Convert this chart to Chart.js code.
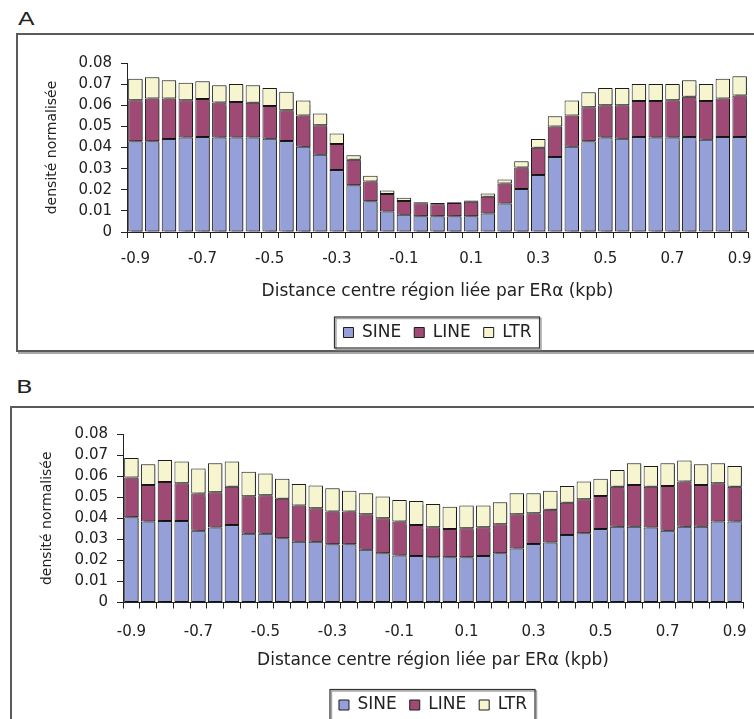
<!DOCTYPE html>
<html lang="fr">
<head>
<meta charset="utf-8">
<title>Densité SINE / LINE / LTR</title>
<script src="https://cdn.jsdelivr.net/npm/chart.js@4.4.1/dist/chart.umd.min.js"></script>
<style>
  html, body { margin: 0; padding: 0; background: #fff; }
  body { width: 754px; height: 719px; overflow: hidden; position: relative; font-family: "DejaVu Sans", sans-serif; }
  .letter { position: absolute; font-size: 18px; color: #222; transform: scaleX(1.35); transform-origin: left top; }
  .frame { position: absolute; box-sizing: border-box; width: 820px; border: 2px solid #5a5a5a; box-shadow: 2px 2px 0 #a8a8a8; }
  canvas { position: absolute; left: 0; }
</style>
</head>
<body>
<div class="letter" style="left:18px; top:8px">A</div>
<div class="frame" style="left:16px; top:33px; height:319px"></div>
<canvas id="chart-a" width="754" height="360" style="top:0"></canvas>

<div class="letter" style="left:16px; top:376px">B</div>
<div class="frame" style="left:10px; top:406px; height:400px"></div>
<canvas id="chart-b" width="754" height="380" style="top:360px"></canvas>

<script>
const CATEGORIES = [
  "-0.9", "-0.85", "-0.8", "-0.75", "-0.7", "-0.65", "-0.6", "-0.55", "-0.5", "-0.45",
  "-0.4", "-0.35", "-0.3", "-0.25", "-0.2", "-0.15", "-0.1", "-0.05", "0", "0.05",
  "0.1", "0.15", "0.2", "0.25", "0.3", "0.35", "0.4", "0.45", "0.5", "0.55",
  "0.6", "0.65", "0.7", "0.75", "0.8", "0.85", "0.9",
];
const X_TITLE = "Distance centre région liée par ERα (kpb)";
const Y_TITLE = "densité normalisée";

// panneau A
const SINE_A = [
  0.0430, 0.0430, 0.0440, 0.0447, 0.0450, 0.0447, 0.0447, 0.0447, 0.0441, 0.0431,
  0.0403, 0.0366, 0.0293, 0.0221, 0.0146, 0.0097, 0.0082, 0.0075, 0.0075, 0.0075,
  0.0075, 0.0087, 0.0135, 0.0203, 0.0270, 0.0355, 0.0403, 0.0430, 0.0447, 0.0441,
  0.0450, 0.0447, 0.0447, 0.0450, 0.0437, 0.0450, 0.0450,
];
const LINE_A = [
  0.0194, 0.0202, 0.0192, 0.0177, 0.0180, 0.0166, 0.0168, 0.0165, 0.0155, 0.0145,
  0.0148, 0.0139, 0.0123, 0.0121, 0.0093, 0.0083, 0.0065, 0.0061, 0.0056, 0.0062,
  0.0068, 0.0080, 0.0094, 0.0102, 0.0129, 0.0145, 0.0149, 0.0161, 0.0153, 0.0159,
  0.0170, 0.0173, 0.0177, 0.0190, 0.0183, 0.0182, 0.0196,
];
const LTR_A = [
  0.0102, 0.0101, 0.0086, 0.0083, 0.0084, 0.0082, 0.0086, 0.0083, 0.0086, 0.0088,
  0.0072, 0.0056, 0.0050, 0.0021, 0.0027, 0.0017, 0.0015, 0.0005, 0.0006, 0.0004,
  0.0006, 0.0015, 0.0020, 0.0030, 0.0041, 0.0048, 0.0071, 0.0071, 0.0082, 0.0082,
  0.0081, 0.0081, 0.0077, 0.0078, 0.0081, 0.0094, 0.0091,
];

// panneau B
const SINE_B = [
  0.0405, 0.0384, 0.0387, 0.0387, 0.0341, 0.0356, 0.0368, 0.0326, 0.0326, 0.0305,
  0.0289, 0.0289, 0.0277, 0.0277, 0.0250, 0.0234, 0.0223, 0.0221, 0.0215, 0.0215,
  0.0215, 0.0221, 0.0234, 0.0256, 0.0278, 0.0285, 0.0321, 0.0329, 0.0349, 0.0360,
  0.0360, 0.0356, 0.0341, 0.0360, 0.0360, 0.0384, 0.0384,
];
const LINE_B = [
  0.0189, 0.0174, 0.0185, 0.0179, 0.0176, 0.0167, 0.0182, 0.0178, 0.0183, 0.0187,
  0.0171, 0.0158, 0.0155, 0.0155, 0.0169, 0.0166, 0.0161, 0.0147, 0.0142, 0.0134,
  0.0138, 0.0136, 0.0138, 0.0163, 0.0146, 0.0155, 0.0153, 0.0161, 0.0157, 0.0190,
  0.0198, 0.0194, 0.0212, 0.0214, 0.0198, 0.0182, 0.0166,
];
const LTR_B = [
  0.0092, 0.0098, 0.0105, 0.0104, 0.0119, 0.0138, 0.0120, 0.0117, 0.0103, 0.0095,
  0.0103, 0.0108, 0.0110, 0.0099, 0.0100, 0.0103, 0.0103, 0.0114, 0.0111, 0.0106,
  0.0107, 0.0103, 0.0104, 0.0100, 0.0095, 0.0091, 0.0079, 0.0084, 0.0081, 0.0079,
  0.0103, 0.0098, 0.0108, 0.0100, 0.0098, 0.0095, 0.0098,
];

const COLORS = { sine: "#96a0d8", line: "#9e4a74", ltr: "#f6f5d0" };
const INK = "#222";

Chart.defaults.font.family = '"DejaVu Sans", sans-serif';
Chart.defaults.color = INK;

// ombre grise à droite des barres (style Excel)
const barShadow = {
  id: "barShadow",
  beforeDatasetsDraw(chart) {
    const c = chart.ctx;
    c.save();
    c.shadowColor = "rgba(0,0,0,0.45)";
    c.shadowOffsetX = 3;
    c.shadowOffsetY = 1;
    c.shadowBlur = 1;
  },
  afterDatasetsDraw(chart) {
    chart.ctx.restore();
  },
};

// cadre autour de la légende
const legendFrame = {
  id: "legendFrame",
  afterDraw(chart) {
    const boxes = chart.legend.legendHitBoxes;
    if (!boxes || !boxes.length) return;
    const left = Math.min(...boxes.map((b) => b.left)) - 9;
    const right = Math.max(...boxes.map((b) => b.left + b.width)) + 8;
    const top = boxes[0].top - 7;
    const bottom = boxes[0].top + boxes[0].height + 7;
    const c = chart.ctx;
    c.save();
    c.strokeStyle = "#a8a8a8";
    c.lineWidth = 1.5;
    c.strokeRect(left + 1.5, top + 1.5, right - left, bottom - top);
    c.strokeStyle = "#333";
    c.lineWidth = 1.2;
    c.strokeRect(left, top, right - left, bottom - top);
    c.restore();
  },
};

function buildChart(id, sine, line, ltr, g) {
  return new Chart(document.getElementById(id), {
    type: "bar",
    data: {
      labels: CATEGORIES,
      datasets: [
        { label: "SINE", data: sine, backgroundColor: COLORS.sine },
        { label: "LINE", data: line, backgroundColor: COLORS.line },
        { label: "LTR", data: ltr, backgroundColor: COLORS.ltr },
      ],
    },
    options: {
      responsive: false,
      animation: false,
      events: [],
      layout: { padding: { top: g.top, right: g.right, bottom: g.bottom, left: 0 } },
      datasets: {
        bar: {
          barPercentage: 0.86,
          categoryPercentage: 1,
          borderColor: "#1c1c1c",
          borderWidth: 1,
          borderSkipped: false,
        },
      },
      plugins: {
        legend: {
          position: "bottom",
          fullSize: false,
          labels: { boxWidth: 10, boxHeight: 10, padding: 13, font: { size: 17 } },
        },
        tooltip: { enabled: false },
      },
      scales: {
        x: {
          stacked: true,
          grid: { drawOnChartArea: false, tickLength: 6, color: INK },
          border: { color: INK },
          ticks: {
            autoSkip: false,
            maxRotation: 0,
            padding: g.xPad,
            font: { size: 15 },
            callback: (v, i) => (i % 4 === 0 ? CATEGORIES[i] : ""),
          },
          title: {
            display: true,
            text: X_TITLE,
            font: { size: 17 },
            padding: { top: 0, bottom: g.titlePad },
          },
          afterFit(s) {
            s.height = g.xHeight;
            s.paddingLeft = 0;
            s.paddingRight = 0;
          },
        },
        y: {
          stacked: true,
          min: 0,
          max: 0.08,
          grid: { drawOnChartArea: false, tickLength: 6, color: INK },
          border: { color: INK },
          ticks: {
            stepSize: 0.01,
            padding: 9,
            font: { size: 15 },
            callback: (v) => (v === 0 ? "0" : v.toFixed(2)),
          },
          title: {
            display: true,
            text: Y_TITLE,
            font: { size: 14 },
            padding: { top: g.yTitlePad, bottom: 0 },
          },
          afterFit(s) {
            s.width = g.yWidth;
          },
        },
      },
    },
    plugins: [barShadow, legendFrame],
  });
}

buildChart("chart-a", SINE_A, LINE_A, LTR_A, {
  top: 63, right: 6, bottom: 9, yWidth: 127, xHeight: 79, xPad: 12, titlePad: 9, yTitlePad: 44,
});
buildChart("chart-b", SINE_B, LINE_B, LTR_B, {
  top: 74, right: 11, bottom: 16.5, yWidth: 123, xHeight: 81, xPad: 15, titlePad: 13, yTitlePad: 39,
});
</script>
</body>
</html>
